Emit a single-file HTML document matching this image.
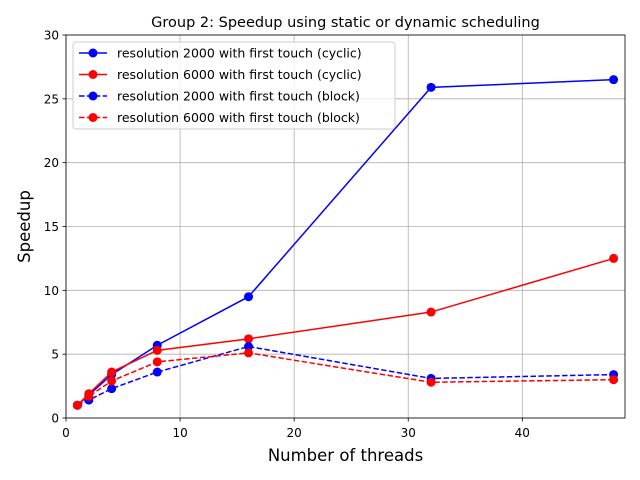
<!DOCTYPE html>
<html><head><meta charset="utf-8"><style>body{margin:0;background:#fff}svg{display:block;font-family:"DejaVu Sans","Liberation Sans",sans-serif}</style></head>
<body>
<svg id="chart" width="640" height="480"></svg>
<script>
const threads=[1,2,4,8,16,32,48];
const res2000Cyclic=[1,1.8,3.4,5.7,9.5,25.9,26.5];
const res6000Cyclic=[1,1.9,3.6,5.3,6.2,8.3,12.5];
const res2000Block=[1,1.4,2.3,3.6,5.6,3.1,3.4];
const res6000Block=[1,1.7,2.9,4.4,5.1,2.8,3.0];
const xTicks=[0,10,20,30,40];
const yTicks=[0,5,10,15,20,25,30];
const seriesLabels=["resolution 2000 with first touch (cyclic)","resolution 6000 with first touch (cyclic)","resolution 2000 with first touch (block)","resolution 6000 with first touch (block)"];
const L=66,R=625,T=35,B=418,xMax=49,yMax=30;
const sx=v=>L+v/xMax*(R-L), sy=v=>B-v/yMax*(B-T);
const NS="http://www.w3.org/2000/svg";const svg=document.getElementById('chart');
function mk(t,a,p){const e=document.createElementNS(NS,t);for(const k in a)e.setAttribute(k,a[k]);(p||svg).appendChild(e);return e;}
const grid=mk('g',{});


xTicks.forEach(v=>{mk('line',{x1:sx(v),x2:sx(v),y1:T,y2:B,stroke:'#b0b0b0','stroke-width':0.8},grid);mk('line',{x1:sx(v),x2:sx(v),y1:B,y2:B+3.5,stroke:'#000','stroke-width':0.8});
const t=mk('text',{x:sx(v),y:B+19,'text-anchor':'middle','font-size':12});t.textContent=v;

});
yTicks.forEach(v=>{mk('line',{x1:L,x2:R,y1:sy(v),y2:sy(v),stroke:'#b0b0b0','stroke-width':0.8},grid);mk('line',{x1:L-3.5,x2:L,y1:sy(v),y2:sy(v),stroke:'#000','stroke-width':0.8});
const t=mk('text',{x:L-7,y:sy(v)+4.5,'text-anchor':'end','font-size':12});t.textContent=v;

});
const series=[[res2000Cyclic,'#0000ff',''],[res6000Cyclic,'#ff0000',''],[res2000Block,'#0000ff','5.5,2.4'],[res6000Block,'#ff0000','5.5,2.4']];
series.forEach((s,i)=>{const g=mk('g',{});


mk('polyline',{points:threads.map((x,j)=>sx(x)+','+sy(s[0][j])).join(' '),fill:'none',stroke:s[1],'stroke-width':1.5,'stroke-dasharray':s[2]},g);
threads.forEach((x,j)=>{const c=mk('circle',{cx:sx(x),cy:sy(s[0][j]),r:4.5,fill:s[1]},g);

});});
const frame=mk('rect',{x:L,y:T,width:R-L,height:B-T,fill:'none',stroke:'#000','stroke-width':0.8});


const title=mk('text',{x:(L+R)/2,y:27,'text-anchor':'middle','font-size':14.5});title.textContent='Group 2: Speedup using static or dynamic scheduling';


const xl=mk('text',{x:(L+R)/2,y:461,'text-anchor':'middle','font-size':16.5});xl.textContent='Number of threads';


const yl=mk('text',{x:30,y:(T+B)/2,'text-anchor':'middle','font-size':16.5,transform:'rotate(-90 30 '+((T+B)/2)+')'});yl.textContent='Speedup';


const lg=mk('g',{});


mk('rect',{x:73,y:42,width:322,height:87,rx:3,fill:'#fff','fill-opacity':0.8,stroke:'#ccc'},lg);
series.forEach((s,i)=>{const y=53+i*21.5;
const e=mk('g',{},lg);


mk('line',{x1:79,x2:107,y1:y,y2:y,stroke:s[1],'stroke-width':1.5,'stroke-dasharray':s[2]},e);
mk('circle',{cx:93,cy:y,r:4.5,fill:s[1]},e);
const t=mk('text',{x:117,y:y+4.5,'font-size':12.5},e);t.textContent=seriesLabels[i];});
</script>
</body></html>
